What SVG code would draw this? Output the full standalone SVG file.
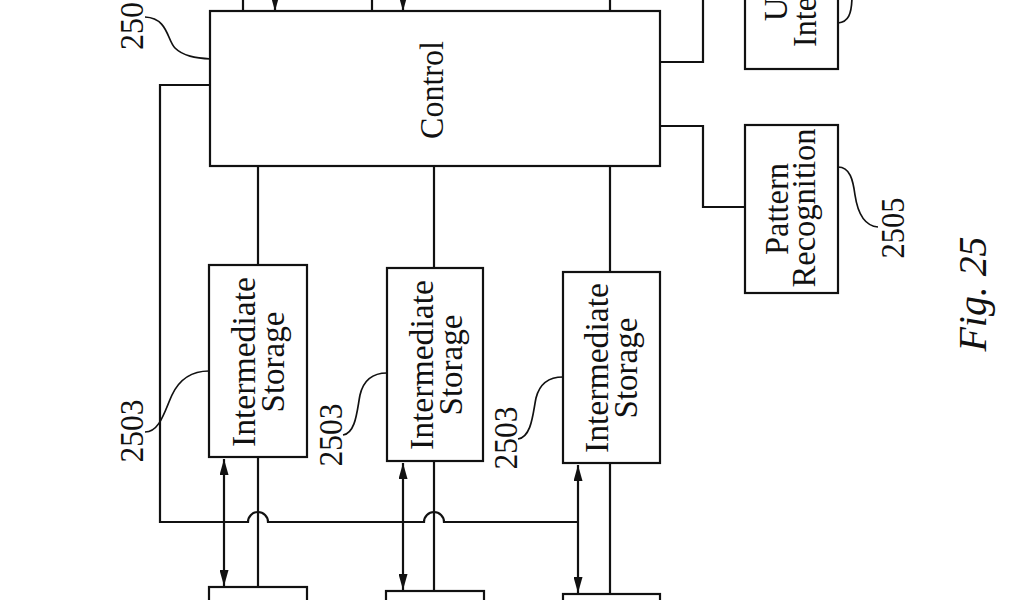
<svg xmlns="http://www.w3.org/2000/svg" width="1024" height="600" viewBox="0 0 1024 600">
<style>
.box{fill:#fff;stroke:#111;stroke-width:2.2}
.ln{fill:none;stroke:#111;stroke-width:2.2}
.ld{fill:none;stroke:#111;stroke-width:1.7}
.t{font-family:"Liberation Serif","DejaVu Serif",serif;font-size:33px;fill:#111;text-anchor:middle}
.n{font-family:"Liberation Serif","DejaVu Serif",serif;font-size:33px;fill:#111}
.fig{font-family:"Liberation Serif","DejaVu Serif",serif;font-size:41px;font-style:italic;fill:#111;text-anchor:middle}
</style>
<defs>
<marker id="ah" viewBox="0 0 16 9" refX="16" refY="4.5" markerWidth="16" markerHeight="9" markerUnits="userSpaceOnUse" orient="auto-start-reverse">
<path d="M0,0 L16,4.5 L0,9 z" fill="#111"/>
</marker>
</defs>
<rect width="1024" height="600" fill="#fff"/>

<g id="connectors">
<line class="ln" x1="243" y1="-5" x2="243" y2="11"/>
<line class="ln" x1="275" y1="-12" x2="275" y2="11" marker-end="url(#ah)"/>
<line class="ln" x1="372" y1="-5" x2="372" y2="11"/>
<line class="ln" x1="403" y1="-12" x2="403" y2="11" marker-end="url(#ah)"/>
<line class="ln" x1="610" y1="-5" x2="610" y2="11"/>
<polyline class="ln" points="660,62 703,62 703,-5"/>
<polyline class="ln" points="660,126 703,126 703,207 745,207"/>
<line class="ln" x1="258" y1="166" x2="258" y2="265"/>
<line class="ln" x1="434" y1="166" x2="434" y2="268"/>
<line class="ln" x1="610" y1="166" x2="610" y2="272"/>
<line class="ln" x1="258" y1="457" x2="258" y2="587"/>
<line class="ln" x1="434" y1="461" x2="434" y2="591"/>
<line class="ln" x1="610" y1="463" x2="610" y2="594"/>
<line class="ln" x1="224" y1="459" x2="224" y2="586" marker-start="url(#ah)" marker-end="url(#ah)"/>
<line class="ln" x1="403" y1="463" x2="403" y2="590" marker-start="url(#ah)" marker-end="url(#ah)"/>
<line class="ln" x1="578" y1="465" x2="578" y2="593" marker-start="url(#ah)" marker-end="url(#ah)"/>
<path class="ln" d="M210,85 L160,85 L160,522 L248,522 A10,10 0 0 1 268,522 L424,522 A10,10 0 0 1 444,522 L578,522"/>
</g>

<g id="control">
<rect class="box" x="210" y="11" width="450" height="155"/>
<text class="t" transform="translate(443,90) rotate(-90)" textLength="98" lengthAdjust="spacingAndGlyphs">Control</text>
</g>
<g id="label-2501">
<text class="n" transform="translate(143,50) rotate(-90)" textLength="48" lengthAdjust="spacingAndGlyphs">250</text>
<path class="ld" d="M145,17 C168,18 167,40 175,48 C183,56 195,58 211,59"/>
</g>

<g id="user-interface">
<rect class="box" x="745" y="-120" width="93" height="189"/>
<text class="t" transform="translate(787,-10) rotate(-90)">User</text>
<text class="t" transform="translate(816,-10) rotate(-90)" textLength="114" lengthAdjust="spacingAndGlyphs">Interface</text>
<path class="ld" d="M838,23 C848,22 852,15 852,-5"/>
</g>

<g id="pattern-recognition">
<rect class="box" x="745" y="125" width="93" height="168"/>
<text class="t" transform="translate(788,209) rotate(-90)" textLength="92" lengthAdjust="spacingAndGlyphs">Pattern</text>
<text class="t" transform="translate(815,208) rotate(-90)" textLength="159" lengthAdjust="spacingAndGlyphs">Recognition</text>
</g>
<g id="label-2505">
<path class="ld" d="M838,167 C850,167 853,180 855,195 C858,215 865,226 878,227"/>
<text class="t" transform="translate(904,228) rotate(-90)" textLength="61" lengthAdjust="spacingAndGlyphs">2505</text>
</g>

<g id="storage-1">
<rect class="box" x="209" y="265" width="98" height="192"/>
<text class="t" transform="translate(255,362) rotate(-90)" textLength="170" lengthAdjust="spacingAndGlyphs">Intermediate</text>
<text class="t" transform="translate(284,362) rotate(-90)" textLength="101" lengthAdjust="spacingAndGlyphs">Storage</text>
</g>
<g id="label-2503-1">
<text class="t" transform="translate(143,431) rotate(-90)" textLength="63" lengthAdjust="spacingAndGlyphs">2503</text>
<path class="ld" d="M145,432 C160,432 165,410 172,395 C180,378 192,371 209,371"/>
</g>

<g id="storage-2">
<rect class="box" x="387" y="268" width="96" height="193"/>
<text class="t" transform="translate(433,365) rotate(-90)" textLength="170" lengthAdjust="spacingAndGlyphs">Intermediate</text>
<text class="t" transform="translate(462,365) rotate(-90)" textLength="101" lengthAdjust="spacingAndGlyphs">Storage</text>
</g>
<g id="label-2503-2">
<text class="t" transform="translate(342,435) rotate(-90)" textLength="63" lengthAdjust="spacingAndGlyphs">2503</text>
<path class="ld" d="M343,435 C356,433 357,410 360,395 C364,378 375,373 387,373"/>
</g>

<g id="storage-3">
<rect class="box" x="563" y="272" width="97" height="191"/>
<text class="t" transform="translate(608,368) rotate(-90)" textLength="170" lengthAdjust="spacingAndGlyphs">Intermediate</text>
<text class="t" transform="translate(637,368) rotate(-90)" textLength="101" lengthAdjust="spacingAndGlyphs">Storage</text>
</g>
<g id="label-2503-3">
<text class="t" transform="translate(517,438) rotate(-90)" textLength="63" lengthAdjust="spacingAndGlyphs">2503</text>
<path class="ld" d="M518,439 C532,437 533,412 536,398 C540,382 550,377 563,377"/>
</g>

<g id="bottom-1"><rect class="box" x="209" y="587" width="98" height="40"/></g>
<g id="bottom-2"><rect class="box" x="386" y="591" width="98" height="40"/></g>
<g id="bottom-3"><rect class="box" x="563" y="594" width="97" height="40"/></g>

<g id="caption">
<text class="fig" transform="translate(986,294) rotate(-90)" textLength="115" lengthAdjust="spacingAndGlyphs">Fig. 25</text>
</g>
</svg>
